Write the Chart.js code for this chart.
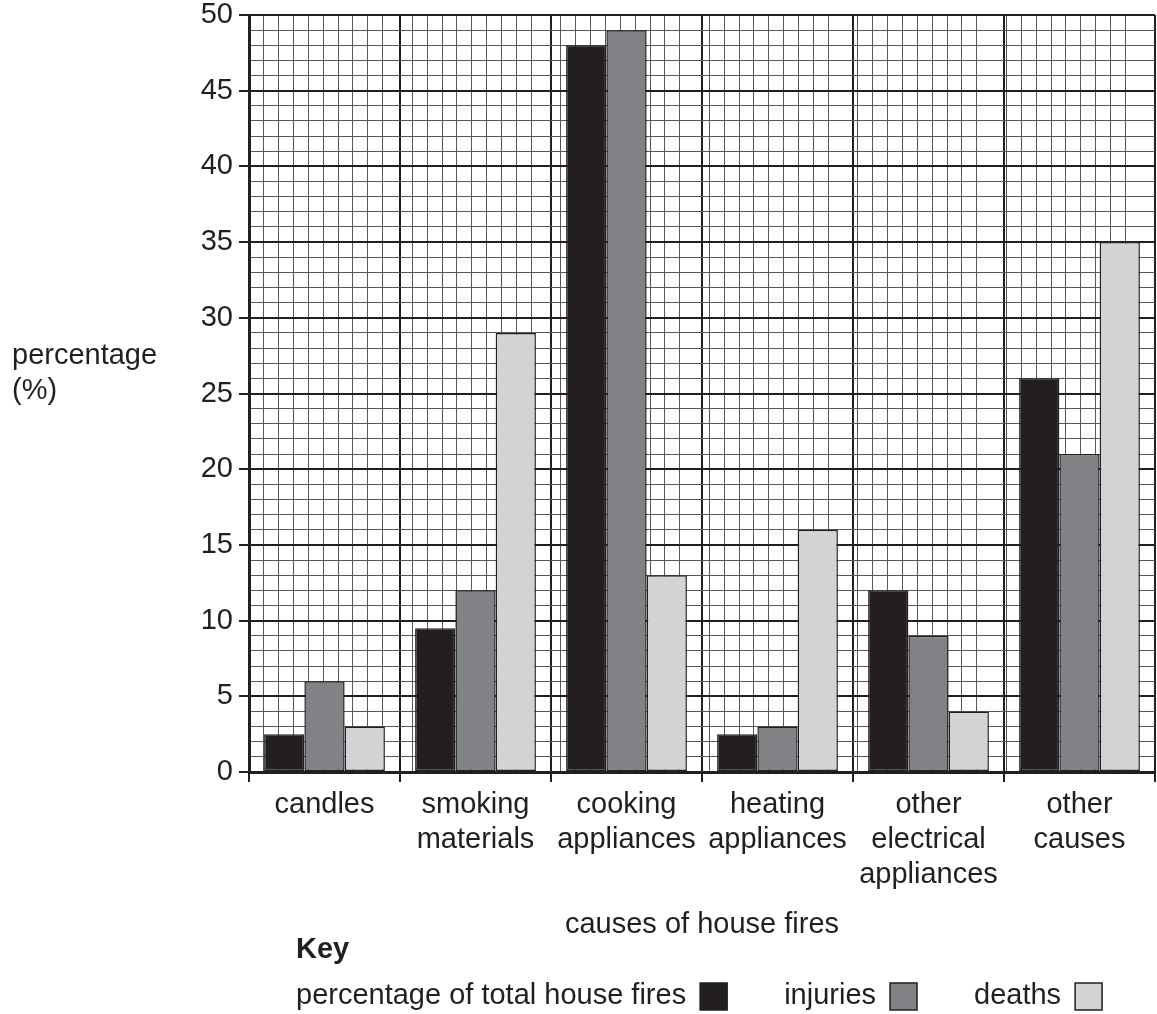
<!DOCTYPE html>
<html>
<head>
<meta charset="utf-8">
<script src="https://cdn.jsdelivr.net/npm/chart.js@4.4.1/dist/chart.umd.min.js"></script>
<style>
  html, body { margin: 0; padding: 0; background: #fff; }
  #wrap { width: 1157px; height: 1014px; }
</style>
</head>
<body>
<div id="wrap"><canvas id="fires"></canvas></div>
<script>
// data
const causes = [["candles"], ["smoking", "materials"], ["cooking", "appliances"],
                ["heating", "appliances"], ["other", "electrical", "appliances"], ["other", "causes"]];
const totalFires = [2.5, 9.5, 48, 2.5, 12, 26];
const injuries   = [6, 12, 49, 3, 9, 21];
const deaths     = [3, 29, 13, 16, 4, 35];

const ink = '#231f20';
const minor = '#58585a';
const FONT = '"Liberation Sans", Arial, Helvetica, sans-serif';
Chart.defaults.font.family = FONT;
Chart.defaults.font.size = 29;
Chart.defaults.color = ink;

const tv = c => (c.tick ? c.tick.value : 0);

// y axis title and the key, drawn as plain text
const extras = {
  id: 'extras',
  afterDraw(chart) {
    const ctx = chart.ctx;
    ctx.save();
    ctx.fillStyle = ink;
    ctx.textBaseline = 'middle';
    ctx.textAlign = 'left';
    ctx.font = '29px ' + FONT;
    ctx.fillText('percentage', 12, 356);
    ctx.fillText('(%)', 12, 391);

    ctx.font = 'bold 29px ' + FONT;
    ctx.fillText('Key', 296, 950);

    ctx.font = '29px ' + FONT;
    let x = 296;
    const y = 996;
    chart.data.datasets.forEach(ds => {
      ctx.fillStyle = ink;
      ctx.fillText(ds.label, x, y);
      x += ctx.measureText(ds.label).width + 14;
      ctx.fillStyle = ds.backgroundColor;
      ctx.fillRect(x, y - 13, 27, 27);
      ctx.strokeStyle = ink;
      ctx.lineWidth = 1.5;
      ctx.strokeRect(x, y - 13, 27, 27);
      x += 27 + 57;
    });
    ctx.restore();
  }
};

new Chart(document.getElementById('fires'), {
  type: 'bar',
  data: {
    labels: causes,
    datasets: [
      { label: 'percentage of total house fires', data: totalFires, backgroundColor: '#231f20' },
      { label: 'injuries', data: injuries, backgroundColor: '#808285' },
      { label: 'deaths', data: deaths, backgroundColor: '#d1d3d4' }
    ]
  },
  plugins: [extras],
  options: {
    responsive: true,
    maintainAspectRatio: false,
    animation: false,
    layout: { padding: { top: 15, right: 2, bottom: 72, left: 0 } },
    datasets: {
      bar: { categoryPercentage: 0.8, barPercentage: 1.0, borderColor: ink, borderWidth: 1.5, borderSkipped: false }
    },
    plugins: {
      legend: { display: false },
      tooltip: { enabled: false }
    },
    scales: {
      x: {
        grid: { color: ink, lineWidth: 2, tickLength: 10, tickColor: ink, tickWidth: 2, offset: true },
        border: { color: ink, width: 3 },
        ticks: { padding: 6, maxRotation: 0, font: { size: 29, lineHeight: 1.2 } },
        title: { display: true, text: 'causes of house fires', padding: 0, font: { size: 29, lineHeight: 1.2 } },
        afterFit: s => { s.height = 170; }
      },
      xMinor: {
        type: 'linear',
        position: 'top',
        min: 0,
        max: 60,
        ticks: { display: false, stepSize: 1 },
        grid: {
          drawTicks: false,
          color: c => (tv(c) % 10 === 0 ? 'rgba(0,0,0,0)' : minor),
          lineWidth: 1
        },
        border: { display: false },
        afterFit: s => { s.height = 0; s.paddingLeft = 0; s.paddingRight = 0; }
      },
      y: {
        min: 0,
        max: 50,
        ticks: {
          stepSize: 1,
          autoSkip: false,
          padding: 6,
          callback: v => (v % 5 === 0 ? v : '')
        },
        grid: {
          color: c => (tv(c) % 5 === 0 ? ink : minor),
          lineWidth: c => (tv(c) % 5 === 0 ? 2 : 1),
          tickLength: 10,
          tickColor: c => (tv(c) % 5 === 0 ? ink : 'rgba(0,0,0,0)'),
          tickWidth: 2
        },
        border: { color: ink, width: 3 },
        afterFit: s => { s.width = 249; s.paddingTop = 0; s.paddingBottom = 0; }
      }
    }
  }
});
</script>
</body>
</html>
